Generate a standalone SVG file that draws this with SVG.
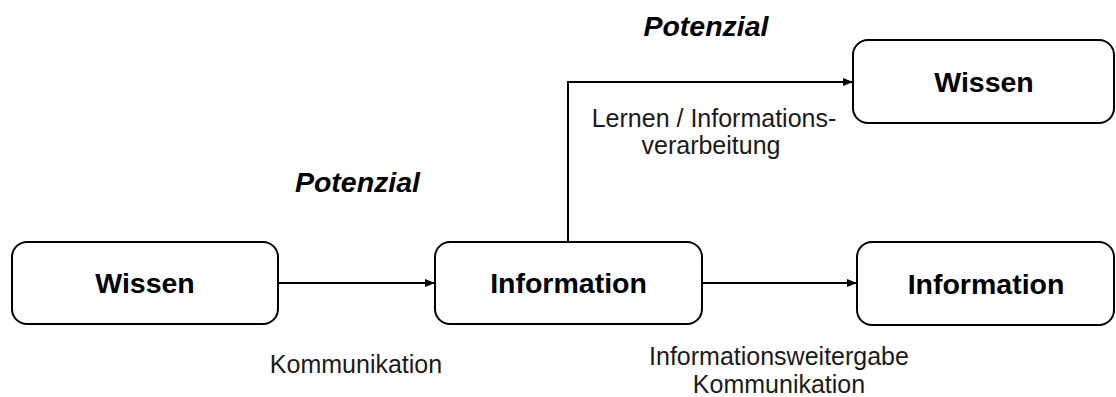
<svg xmlns="http://www.w3.org/2000/svg" width="1116" height="397" viewBox="0 0 1116 397">
<style>
.box{fill:#fff;stroke:#000;stroke-width:2}
.b{font-family:"Liberation Sans",Arial,sans-serif;font-weight:bold;font-size:28.5px;text-anchor:middle;fill:#000}
.bi{font-family:"Liberation Sans",Arial,sans-serif;font-weight:bold;font-style:italic;font-size:28.5px;text-anchor:middle;fill:#000}
.r{font-family:"Liberation Sans",Arial,sans-serif;font-size:25px;text-anchor:middle;fill:#1a1a1a}
.c{fill:none;stroke:#000;stroke-width:2}
</style>
<defs>
<marker id="ah" markerWidth="10" markerHeight="8" refX="9" refY="4" orient="auto" markerUnits="userSpaceOnUse">
<path d="M0,0 L10,4 L0,8 Z" fill="#000"/>
</marker>
</defs>
<g id="connectors">
<line class="c" x1="278" y1="283" x2="434" y2="283" marker-end="url(#ah)"/>
<line class="c" x1="702" y1="283" x2="856" y2="283" marker-end="url(#ah)"/>
<polyline class="c" points="568,242 568,82 852,82" marker-end="url(#ah)"/>
</g>
<g id="wissen1">
<rect class="box" x="12" y="242" width="266" height="82" rx="15"/>
<text class="b" x="145" y="293">Wissen</text>
</g>
<g id="information1">
<rect class="box" x="435" y="242" width="267" height="82" rx="15"/>
<text class="b" x="568.5" y="293">Information</text>
</g>
<g id="wissen2">
<rect class="box" x="853" y="40" width="261" height="83" rx="15"/>
<text class="b" x="984" y="92">Wissen</text>
</g>
<g id="information2">
<rect class="box" x="857" y="242" width="257" height="83" rx="15"/>
<text class="b" x="986" y="294">Information</text>
</g>
<g id="labels">
<text class="bi" x="706" y="36">Potenzial</text>
<text class="bi" x="357.5" y="192">Potenzial</text>
<text class="r" x="356" y="373">Kommunikation</text>
<text class="r" x="779" y="365">Informationsweitergabe</text>
<text class="r" x="779" y="393">Kommunikation</text>
<text class="r" x="714" y="127">Lernen / Informations-</text>
<text class="r" x="711" y="154">verarbeitung</text>
</g>
</svg>
